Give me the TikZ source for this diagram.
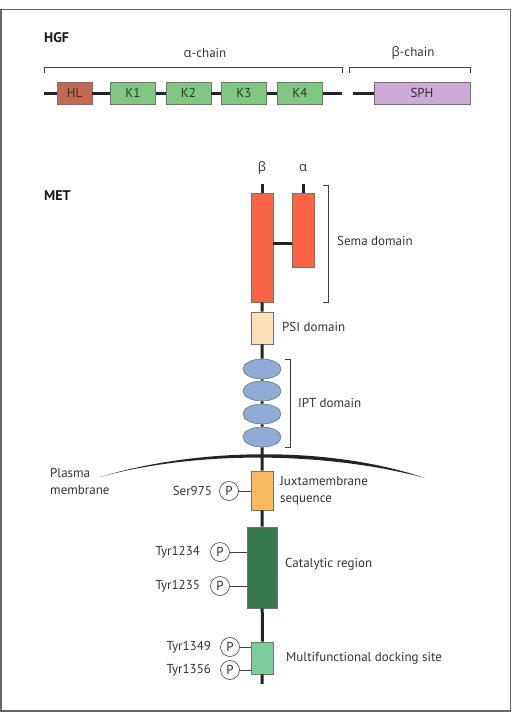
\documentclass[tikz,border=0pt]{standalone}
\usepackage{fontspec}
\setmainfont{PT Sans}
\newfontfamily\greek{Open Sans}
\usetikzlibrary{shapes.geometric,positioning}

\definecolor{hlred}{RGB}{196,104,80}
\definecolor{kgreen}{RGB}{128,200,130}
\definecolor{sphpurple}{RGB}{206,170,216}
\definecolor{semared}{RGB}{250,100,68}
\definecolor{psicream}{RGB}{253,224,184}
\definecolor{iptblue}{RGB}{142,172,214}
\definecolor{jmorange}{RGB}{250,185,92}
\definecolor{catgreen}{RGB}{56,122,80}
\definecolor{dockgreen}{RGB}{122,204,152}
\definecolor{chain}{RGB}{35,35,35}

\begin{document}
\begin{tikzpicture}[x=1pt,y=-1pt,
  font=\fontsize{13}{17}\selectfont, text=black!80,
  dom/.style={draw=black!55, line width=.6pt, inner sep=0pt, fill=#1},
  kbox/.style={dom=kgreen, minimum width=45pt, minimum height=22pt},
  ipt/.style={ellipse, dom=iptblue, minimum width=38pt, minimum height=20pt},
  bb/.style={line width=3pt, chain},
  brk/.style={line width=.9pt, black!75},
  phos/.style={circle, draw=black!75, line width=.6pt, fill=white, minimum size=19pt, inner sep=0pt},
  tie/.style={line width=.6pt, black!75},
  lbl/.style={inner sep=0pt, align=left},
  title/.style={inner sep=0pt, font=\fontsize{14}{17}\selectfont\bfseries, text=black!90}]
  \useasboundingbox (0,0) rectangle (515,712);
  \draw[black!60, line width=1.5pt] (1,9.5) rectangle (510.5,711);

  % HGF: alpha and beta chains
  \node[title, anchor=west] (hgf) at (44,38) {HGF};
  \node (achain) at (205,53) {{\greek α}-chain};
  \node (bchain) at (413,53) {{\greek β}-chain};
  \draw[brk] (44,73) -- (44,67.5) -- (342,67.5) -- (342,73);
  \draw[brk] (349,73) -- (349,67.5) -- (470,67.5) -- (470,73);
  \coordinate (a0) at (44,93);
  \coordinate (a1) at (342,93);
  \coordinate (b0) at (353,93);
  \node[dom=hlred, minimum width=35pt, minimum height=22pt] (hl) at (74.5,93) {HL};
  \foreach \k/\x in {1/133,2/188.5,3/244,4/300}
    \node[kbox] (k\k) at (\x,93) {K\k};
  \node[dom=sphpurple, minimum width=96pt, minimum height=22pt] (sph) at (422,93) {SPH};
  \draw[bb] (a0) -- (hl) -- (k1) -- (k2) -- (k3) -- (k4) -- (a1);
  \draw[bb] (b0) -- (sph);

  % MET: extracellular part
  \node[title, anchor=west] (met) at (44,196) {MET};
  \node (beta) at (262,168) {\greek β};
  \node (alpha) at (303,168) {\greek α};
  \coordinate (btop) at (262,184);
  \coordinate (atop) at (303,184);
  \node[dom=semared, minimum width=22pt, minimum height=109pt] (semab) at (262,247.5) {};
  \node[dom=semared, minimum width=22pt, minimum height=74pt] (semaa) at (303,230) {};
  \draw[bb] (btop) -- (semab);
  \draw[bb] (atop) -- (semaa);
  \draw[bb] (semab.east |- 0,243) -- (semaa.west |- 0,243);
  \draw[brk] (323,185) -- (328,185) -- (328,302) -- (323,302);
  \node[lbl, anchor=west] (semalbl) at (337,241) {Sema domain};

  \node[dom=psicream, minimum width=22pt, minimum height=32pt] (psi) at (262,328) {};
  \node[lbl, anchor=west] (psilbl) at (282,327) {PSI domain};

  \foreach \i/\y in {1/369,2/391,3/414,4/437}
    \node[ipt] (ipt\i) at (262,\y) {};
  \draw[brk] (285,359) -- (290,359) -- (290,447) -- (285,447);
  \node[lbl, anchor=west] (iptlbl) at (298,403) {IPT domain};

  % membrane
  \fill[chain] (100,477) .. controls (200,447) and (330,446) .. (425,478)
    .. controls (330,452.5) and (200,449.5) .. cycle;
  \node[lbl, anchor=west] (pm) at (50,481) {Plasma\\membrane};

  % MET: intracellular part
  \node[dom=jmorange, minimum width=22pt, minimum height=39pt] (jm) at (262,490.5) {};
  \node[lbl, anchor=west] (jmlbl) at (280,491) {Juxtamembrane\\sequence};
  \node[dom=catgreen, minimum width=30pt, minimum height=81pt] (cat) at (262,567.5) {};
  \node[lbl, anchor=west] (catlbl) at (285,564) {Catalytic region};
  \node[dom=dockgreen, minimum width=22pt, minimum height=32pt] (dock) at (262.5,658) {};
  \node[lbl, anchor=west] (docklbl) at (286,658) {Multifunctional docking site};
  \coordinate (mbot) at (262,684);
  \draw[bb] (semab) -- (psi) -- (ipt1) -- (ipt2) -- (ipt3) -- (ipt4) -- (jm) -- (cat) -- (dock) -- (mbot);

  % phosphorylation sites
  \node[phos] (p975) at (229,491) {P};
  \node[phos] (p1234) at (220,552) {P};
  \node[phos] (p1235) at (220,586) {P};
  \node[phos] (p1349) at (230,647) {P};
  \node[phos] (p1356) at (230,670) {P};
  \draw[tie] (p975) -- (p975 -| jm.west);
  \draw[tie] (p1234) -- (p1234 -| cat.west);
  \draw[tie] (p1235) -- (p1235 -| cat.west);
  \draw[tie] (p1349) -- (p1349 -| dock.west);
  \draw[tie] (p1356) -- (p1356 -| dock.west);
  \node[lbl, left=7pt of p975] {Ser975};
  \node[lbl, left=10pt of p1234] {Tyr1234};
  \node[lbl, left=10pt of p1235] {Tyr1235};
  \node[lbl, left=9pt of p1349] {Tyr1349};
  \node[lbl, left=9pt of p1356] {Tyr1356};
\end{tikzpicture}
\end{document}
